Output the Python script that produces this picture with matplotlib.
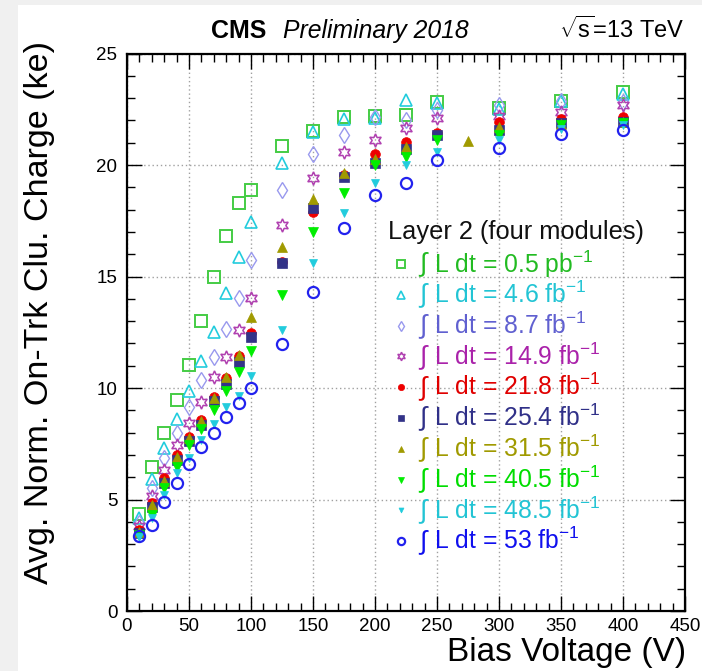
import matplotlib
matplotlib.use('Agg')
import matplotlib.pyplot as plt
from matplotlib.patches import Rectangle
from matplotlib.ticker import MultipleLocator

plt.rcParams['font.family'] = ['Liberation Sans', 'DejaVu Sans']
plt.rcParams['mathtext.fontset'] = 'custom'
plt.rcParams['mathtext.rm'] = 'Liberation Sans'
plt.rcParams['mathtext.it'] = 'Liberation Sans:italic'
plt.rcParams['mathtext.bf'] = 'Liberation Sans:bold'

# ---------------- data ----------------
voltages = [10, 20, 30, 40, 50, 60, 70, 80, 90, 100, 125, 150, 175, 200, 225, 250, 300, 350, 400]
voltages_31p5 = [10, 20, 30, 40, 50, 60, 70, 80, 90, 100, 125, 150, 175, 200, 225, 275, 300, 350, 400]

charge_0p5pb = [4.35, 6.44, 7.97, 9.46, 11.05, 13.02, 15.0, 16.8, 18.28, 18.9, 20.83, 21.54, 22.17, 22.2, 22.24, 22.84, 22.56, 22.88, 23.26]
charge_4p6fb = [4.15, 5.9, 7.33, 8.62, 9.87, 11.23, 12.5, 14.28, 15.89, 17.45, 20.1, 21.5, 22.05, 22.1, 22.91, 22.8, 22.5, 22.85, 23.2]
charge_8p7fb = [3.95, 5.5, 6.85, 8.0, 9.13, 10.35, 11.4, 12.65, 14.05, 15.72, 18.88, 20.49, 21.35, 22.15, 22.0, 22.47, 22.7, 22.85, 22.84]
charge_14p9fb = [3.81, 5.16, 6.32, 7.44, 8.44, 9.37, 10.5, 11.4, 12.6, 14.05, 17.31, 19.4, 20.6, 21.12, 21.67, 22.09, 22.2, 22.39, 22.69]
charge_21p8fb = [3.63, 4.83, 5.95, 7.0, 7.82, 8.55, 9.58, 10.43, 11.42, 12.46, 15.65, 17.9, 19.55, 20.48, 21.02, 21.42, 21.94, 22.05, 22.17]
charge_25p4fb = [3.48, 4.68, 5.75, 6.77, 7.64, 8.34, 9.4, 10.2, 11.15, 12.28, 15.59, 18.06, 19.48, 20.07, 20.72, 21.35, 21.57, 21.87, 21.94]
charge_31p5fb = [3.55, 4.75, 5.85, 6.9, 7.75, 8.5, 9.55, 10.5, 11.5, 13.2, 16.34, 18.46, 19.63, 20.25, 20.8, 21.08, 21.7, 21.85, 21.95]
charge_40p5fb = [3.41, 4.3, 5.5, 6.44, 7.44, 8.15, 9.01, 9.85, 10.7, 11.67, 14.17, 17.0, 18.73, 20.0, 20.37, 21.12, 21.35, 21.8, 21.9]
charge_48p5fb = [3.3, 4.16, 5.2, 6.17, 6.88, 7.65, 8.4, 9.13, 9.65, 10.53, 12.6, 15.59, 17.83, 19.18, 20.0, 20.6, 21.12, 21.6, 21.79]
charge_53fb = [3.36, 3.86, 4.9, 5.75, 6.57, 7.35, 7.97, 8.7, 9.31, 9.98, 11.97, 14.32, 17.16, 18.65, 19.2, 20.22, 20.75, 21.38, 21.57]

lumi_labels = ['L dt = 0.5 pb$^{-1}$', 'L dt = 4.6 fb$^{-1}$',
               'L dt = 8.7 fb$^{-1}$', 'L dt = 14.9 fb$^{-1}$',
               'L dt = 21.8 fb$^{-1}$', 'L dt = 25.4 fb$^{-1}$',
               'L dt = 31.5 fb$^{-1}$', 'L dt = 40.5 fb$^{-1}$',
               'L dt = 48.5 fb$^{-1}$', 'L dt = 53 fb$^{-1}$']

x_ticks = [0, 50, 100, 150, 200, 250, 300, 350, 400, 450]
y_ticks = [0, 5, 10, 15, 20, 25]

# ---------------- styles ----------------
series = [
    (voltages, charge_0p5pb, dict(marker='s', ms=8, mfc='none', mec='#44cc44', mew=1.4), '#22bb22'),
    (voltages, charge_4p6fb, dict(marker='^', ms=8.5, mfc='none', mec='#22ccdd', mew=1.2), '#22c4d4'),
    (voltages, charge_8p7fb, dict(marker='d', ms=8.5, mfc='none', mec='#9999ee', mew=1.0), '#6060d0'),
    (voltages, charge_14p9fb, dict(marker=(6, 1, 0), ms=9.5, mfc='none', mec='#b040b0', mew=1.1), '#aa22aa'),
    (voltages, charge_21p8fb, dict(marker='o', ms=7, mfc='#ee0000', mec='#ee0000', mew=0.5), '#e00000'),
    (voltages, charge_25p4fb, dict(marker='s', ms=7, mfc='#333388', mec='#333388', mew=0.5), '#303088'),
    (voltages_31p5, charge_31p5fb, dict(marker='^', ms=7, mfc='#a09a00', mec='#a09a00', mew=0.5), '#a09a00'),
    (voltages, charge_40p5fb, dict(marker='v', ms=7.5, mfc='#00ee00', mec='#00ee00', mew=0.5), '#00dd00'),
    (voltages, charge_48p5fb, dict(marker='v', ms=5.5, mfc='#22ccdd', mec='#22ccdd', mew=0.5), '#22c4d4'),
    (voltages, charge_53fb, dict(marker='o', ms=8, mfc='none', mec='#2222ee', mew=1.6), '#1010ee'),
]

W, H = 702, 671
fig = plt.figure(figsize=(W / 100, H / 100), dpi=100)
fig.patch.set_facecolor('#f0f0f0')
fig.add_artist(Rectangle((18 / W, 0), (W - 18) / W, 1 - 5 / H, transform=fig.transFigure,
                         facecolor='white', edgecolor='none', zorder=-10))


def fx(px):
    return px / W


def fy(py):
    return 1 - py / H


ax = fig.add_axes([fx(127), fy(611), (685 - 127) / W, (611 - 53.5) / H])
ax.set_xlim(0, 450)
ax.set_ylim(0, 25)
ax.set_xticks(x_ticks)
ax.set_yticks(y_ticks)
ax.xaxis.set_minor_locator(MultipleLocator(10))
ax.yaxis.set_minor_locator(MultipleLocator(1))
ax.tick_params(which='both', direction='in', top=True, right=True, labelsize=13.5, width=1.0)
ax.tick_params(which='major', length=11)
ax.tick_params(which='minor', length=5.5)
ax.tick_params(axis='y', pad=7)
ax.tick_params(axis='x', pad=5)
for s in ax.spines.values():
    s.set_linewidth(1.6)
ax.grid(True, which='major', linestyle=(0, (1, 2)), color='#a0a0a0', linewidth=1.0)
ax.set_axisbelow(True)

for xs, ys, st, _ in series:
    ax.plot(xs, ys, linestyle='none', **st)

# axis titles
fig.text(fx(40), fy(41), 'Avg. Norm. On-Trk Clu. Charge (ke)', rotation=90,
         ha='center', va='top', fontsize=24.5)
fig.text(fx(686), fy(652), 'Bias Voltage (V)', ha='right', va='center', fontsize=24)

# header texts
fig.text(fx(211), fy(38), 'CMS', weight='bold', fontsize=18, ha='left', va='baseline')
fig.text(fx(283), fy(38), 'Preliminary 2018', style='italic', fontsize=17.8, ha='left', va='baseline')
fig.text(fx(685), fy(38), r'$\sqrt{\mathrm{s}}$=13 TeV', fontsize=17, ha='right', va='baseline')

# legend (drawn manually)
fig.text(fx(388), fy(232), 'Layer 2 (four modules)', fontsize=18.3, ha='left', va='center', color='#111111')
for i, (xs, ys, st, tc) in enumerate(series):
    yy = 264 + 30.8 * i
    st2 = dict(st)
    st2['ms'] = st['ms'] * 0.65
    ax.plot([fx(401)], [fy(yy)], linestyle='none', transform=fig.transFigure, clip_on=False, **st2)
    fig.text(fx(418), fy(yy + 1), r'$\int$', fontsize=19, ha='left', va='center', color=tc)
    fig.text(fx(434), fy(yy), lumi_labels[i], fontsize=17.8, ha='left', va='center', color=tc)

fig.savefig('out.png', dpi=100, facecolor=fig.get_facecolor())
